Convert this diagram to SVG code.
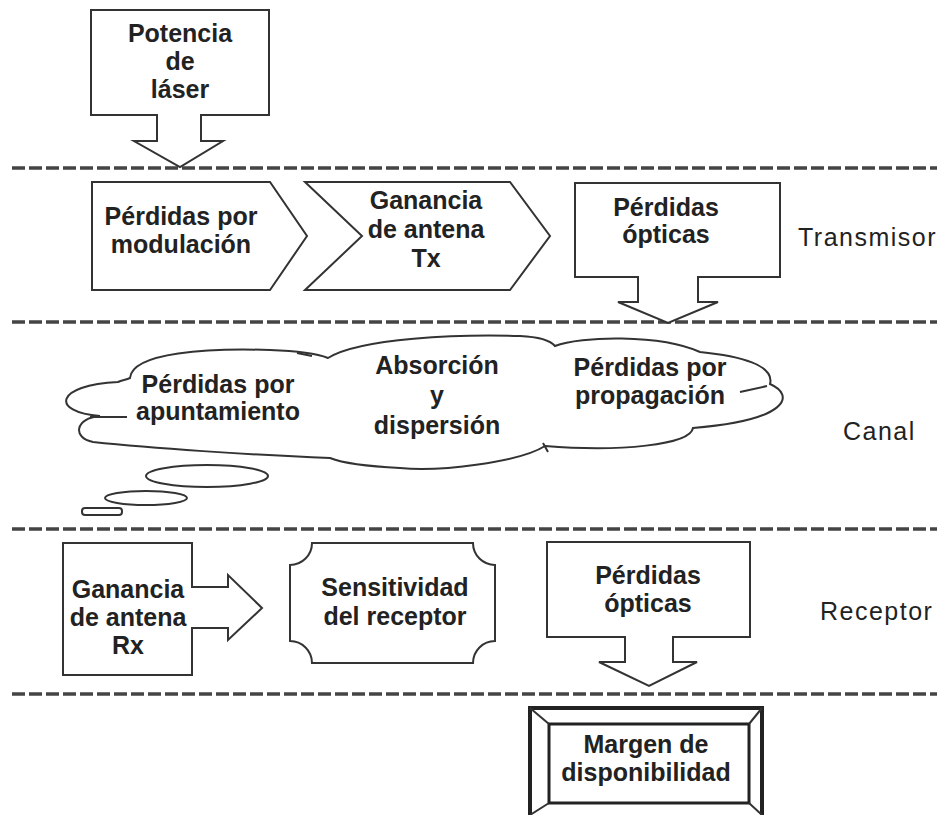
<svg xmlns="http://www.w3.org/2000/svg" width="947" height="815" viewBox="0 0 947 815">
<defs>
<style>
.shape{fill:#fff;stroke:#333;stroke-width:2;stroke-linejoin:miter}
.thin{fill:none;stroke:#333;stroke-width:2}
.sep{fill:none;stroke:#444;stroke-width:3.5;stroke-dasharray:13 4}
.t{font-family:"Liberation Sans",Arial,sans-serif;font-weight:bold;font-size:25px;fill:#222;text-anchor:middle}
.lbl{font-family:"Liberation Sans",Arial,sans-serif;font-size:25px;fill:#222;letter-spacing:1.5px}
</style>
</defs>
<rect width="947" height="815" fill="#fff"/>
<g id="separators">
<line class="sep" x1="12" y1="168" x2="937" y2="168"/>
<line class="sep" x1="12" y1="322" x2="937" y2="322"/>
<line class="sep" x1="12" y1="529" x2="937" y2="529"/>
<line class="sep" x1="12" y1="694" x2="937" y2="694"/>
</g>
<g id="connectors"></g>
<g id="potencia">
<path class="shape" d="M91,10 H269 V115 H201 V141 H223 L180,167 L134,141 H157 V115 H91 Z"/>
<text class="t" x="180" y="42">Potencia</text>
<text class="t" x="180" y="70">de</text>
<text class="t" x="180" y="98">láser</text>
</g>
<g id="modulacion">
<path class="shape" d="M92,182 H270 L307,236 L270,290 H92 Z"/>
<text class="t" x="181" y="225">Pérdidas por</text>
<text class="t" x="181" y="253">modulación</text>
</g>
<g id="antenaTx">
<path class="shape" d="M305,182 H510 L550,236 L510,290 H305 L362,236 Z"/>
<text class="t" x="426" y="209">Ganancia</text>
<text class="t" x="426" y="238">de antena</text>
<text class="t" x="426" y="267">Tx</text>
</g>
<g id="opticasTx">
<path class="shape" d="M575,183 H780 V277 H698 V302 H718 L668,323 L618,302 H638 V277 H575 Z"/>
<text class="t" x="666" y="216">Pérdidas</text>
<text class="t" x="666" y="243">ópticas</text>
</g>
<text class="lbl" x="798" y="246">Transmisor</text>
<g id="canal">
<path class="shape" d="M130,378 C132,352 210,348 270,350 C300,351 318,354 328,358 C360,338 460,334 520,336 C540,337 550,340 555,346 C580,336 660,334 700,352 C740,356 775,365 770,384 C795,395 790,420 693,428 C690,445 620,452 545,446 C520,462 440,472 400,468 C360,466 340,462 330,458 C250,455 150,448 93,442 C72,438 75,418 100,416 C50,412 55,385 118,382 C122,380 126,380 130,378 Z"/>
<path class="thin" d="M90,417 H127 M740,392 L767,386 M297,353 L312,356 M543,443 L548,452"/>
<ellipse class="shape" cx="207" cy="476" rx="61" ry="11"/>
<ellipse class="shape" cx="146" cy="498" rx="41" ry="7"/>
<rect class="shape" x="82" y="508" width="40" height="7" rx="3"/>
<text class="t" x="218" y="393">Pérdidas por</text>
<text class="t" x="218" y="420">apuntamiento</text>
<text class="t" x="437" y="374">Absorción</text>
<text class="t" x="437" y="404">y</text>
<text class="t" x="437" y="434">dispersión</text>
<text class="t" x="650" y="376">Pérdidas por</text>
<text class="t" x="650" y="404">propagación</text>
</g>
<text class="lbl" x="843" y="440">Canal</text>
<g id="antenaRx">
<path class="shape" d="M63,543 H192 V587 H228 V575 L262,608 L228,640 V628 H192 V675 H63 Z"/>
<text class="t" x="128" y="598">Ganancia</text>
<text class="t" x="128" y="626">de antena</text>
<text class="t" x="128" y="654">Rx</text>
</g>
<g id="sensitividad">
<path class="shape" d="M312,543 H473 A22,22 0 0 0 495,565 V641 A22,22 0 0 0 473,663 H312 A22,22 0 0 0 290,641 V565 A22,22 0 0 0 312,543 Z"/>
<text class="t" x="395" y="596">Sensitividad</text>
<text class="t" x="395" y="625">del receptor</text>
</g>
<g id="opticasRx">
<path class="shape" d="M547,542 H750 V637 H673 V662 H697 L649,686 L599,662 H625 V637 H547 Z"/>
<text class="t" x="648" y="584">Pérdidas</text>
<text class="t" x="648" y="612">ópticas</text>
</g>
<text class="lbl" x="820" y="620">Receptor</text>
<g id="margen">
<rect x="530" y="708" width="232" height="112" fill="#fff" stroke="#222" stroke-width="4"/>
<rect x="549" y="724" width="200" height="79" fill="#fff" stroke="#222" stroke-width="3"/>
<path class="thin" d="M530,708 L549,724 M762,708 L749,724 M530,815 L549,803 M762,815 L749,803"/>
<text class="t" x="646" y="753">Margen de</text>
<text class="t" x="646" y="781">disponibilidad</text>
</g>
</svg>
